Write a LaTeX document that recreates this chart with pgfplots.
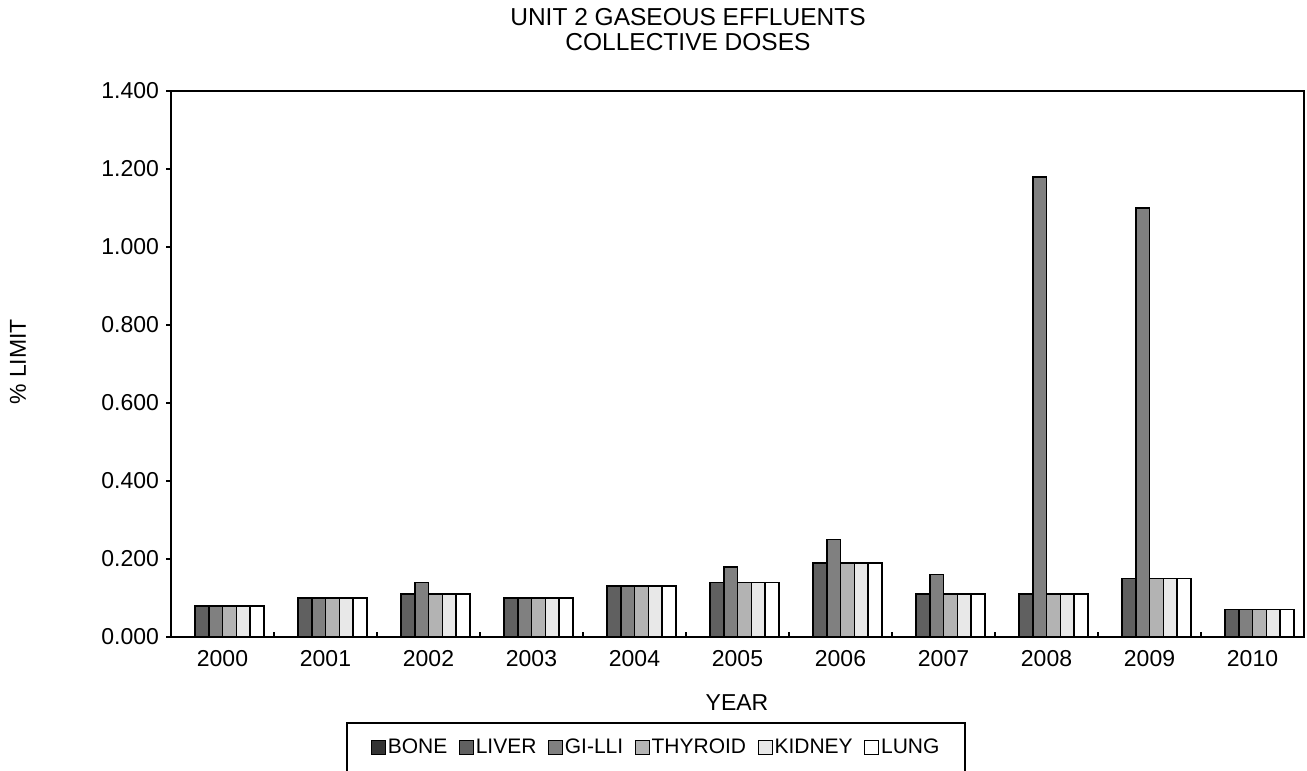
\documentclass[border=0pt]{standalone}
\usepackage{pgfplots}
\pgfplotsset{compat=1.18}
\usepackage{pgfplotstable}
\usepackage{fontspec}
\setmainfont{Liberation Sans}

\definecolor{cbone}{HTML}{333333}
\definecolor{cliver}{HTML}{606060}
\definecolor{cgilli}{HTML}{808080}
\definecolor{cthyroid}{HTML}{B3B3B3}
\definecolor{ckidney}{HTML}{E8E8E8}
\definecolor{clung}{HTML}{FFFFFF}

% collective doses, % of limit, 2000..2010
\pgfplotstableread{
x  bone liver gilli thyroid kidney lung
0  0    0.08  0.08  0.08    0.08   0.08
1  0    0.10  0.10  0.10    0.10   0.10
2  0    0.11  0.14  0.11    0.11   0.11
3  0    0.10  0.10  0.10    0.10   0.10
4  0    0.13  0.13  0.13    0.13   0.13
5  0    0.14  0.18  0.14    0.14   0.14
6  0    0.19  0.25  0.19    0.19   0.19
7  0    0.11  0.16  0.11    0.11   0.11
8  0    0.11  1.18  0.11    0.11   0.11
9  0    0.15  1.10  0.15    0.15   0.15
10 0    0.07  0.07  0.07    0.07   0.07
}\dosedata

\begin{document}
\begin{tikzpicture}[font=\fontsize{11.5}{13}\selectfont]
\useasboundingbox (0,0) rectangle (653.5pt,385.5pt);
\begin{axis}[
    at={(85.5pt,67pt)}, anchor=south west,
    scale only axis,
    width=566.5pt, height=273pt,
    ybar=0pt, bar width=6.9pt,
    xmin=-0.5, xmax=10.5,
    ymin=0, ymax=1.4,
    ytick={0,0.2,...,1.4},
    yticklabel style={/pgf/number format/.cd, fixed, fixed zerofill, precision=3, assume math mode=true},
    xtick={0.5,1.5,...,9.5},
    xticklabels={},
    extra x ticks={0,...,10},
    extra x tick labels={2000,2001,2002,2003,2004,2005,2006,2007,2008,2009,2010},
    extra x tick style={major tick length=0pt},
    xticklabel style={yshift=-3pt},
    xtick align=inside, ytick align=outside,
    major tick length=2.5pt,
    xtick pos=left, ytick pos=left,
    axis line style={line width=0.75pt},
    tick style={line width=0.75pt, black},
    every axis plot/.append style={draw=black, line width=0.8pt},
    legend columns=6,
    legend image code/.code={\draw[#1, line width=0.6pt] (0pt,-3.5pt) rectangle (7pt,3.5pt);},
    legend style={at={(0.1545,-0.1557)}, anchor=north west, draw=black, line width=1pt,
        inner xsep=12pt, inner ysep=6pt,
        nodes={inner xsep=0.8pt},
        /tikz/every odd column/.style={column sep=0pt},
        /tikz/every even column/.style={column sep=5pt},
        font=\fontsize{10.5}{12}\selectfont},
]
\addplot[fill=cbone] table[x=x, y=bone] {\dosedata};
\addplot[fill=cliver] table[x=x, y=liver] {\dosedata};
\addplot[fill=cgilli] table[x=x, y=gilli] {\dosedata};
\addplot[fill=cthyroid] table[x=x, y=thyroid] {\dosedata};
\addplot[fill=ckidney] table[x=x, y=kidney] {\dosedata};
\addplot[fill=clung] table[x=x, y=lung] {\dosedata};
\legend{BONE, LIVER, GI-LLI, THYROID, KIDNEY, LUNG}
\end{axis}
\node[align=center, font=\fontsize{12.25}{12.5}\selectfont] at (344pt,370.5pt) {UNIT 2 GASEOUS EFFLUENTS\\COLLECTIVE DOSES};
\node[rotate=90] at (9pt,204.5pt) {\% LIMIT};
\node at (368.5pt,34pt) {YEAR};
\end{tikzpicture}
\end{document}
